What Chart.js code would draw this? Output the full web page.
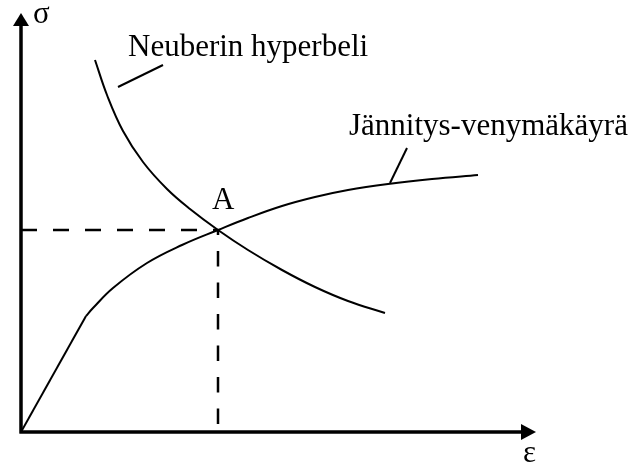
<!DOCTYPE html>
<html>
<head>
<meta charset="utf-8">
<script src="https://cdn.jsdelivr.net/npm/chart.js@4/dist/chart.umd.min.js"></script>
<style>
  body { margin: 0; background: #fff; }
  #wrap { width: 635px; height: 464px; }
</style>
</head>
<body>
<div id="wrap"><canvas id="neuberChart"></canvas></div>
<script>
// strain (ε) and stress (σ), arbitrary units
const elasticEps = [0, 1.30];
const elasticSig = [0, 2.32];

const plasticEps = [1.30, 1.44, 1.84, 2.52, 3.22, 3.94, 4.54, 5.22, 5.88, 6.54, 7.34, 8.22, 9.14];
const plasticSig = [2.32, 2.48, 2.88, 3.38, 3.74, 4.04, 4.28, 4.52, 4.70, 4.84, 4.96, 5.06, 5.14];

const neuberEps = [1.48, 1.72, 2.04, 2.44, 2.92, 3.38, 3.94, 4.54, 5.22, 5.88, 6.54, 7.28];
const neuberSig = [7.44, 6.74, 6.02, 5.40, 4.86, 4.46, 4.04, 3.64, 3.24, 2.90, 2.62, 2.38];

// intersection point A
const pointA = { x: 3.94, y: 4.04 };

// leader lines from the curves to their labels
const neuberLeaderEps = [1.94, 2.84];
const neuberLeaderSig = [6.90, 7.34];
const curveLeaderEps = [7.38, 7.72];
const curveLeaderSig = [4.98, 5.68];

const labelTexts = ["Neuberin hyperbeli", "Jännitys-venymäkäyrä", "A"];
const axisTitles = ["ε", "σ"];

const pts = (xs, ys) => xs.map((x, i) => ({ x: x, y: ys[i] }));

const solid = {
    borderColor: "#000",
    borderWidth: 2,
    pointRadius: 0,
    fill: false
};

const textFont = '31px "Liberation Serif", "Times New Roman", serif';

const annotations = {
    id: "annotations",
    afterDraw(c) {
        const ctx = c.ctx;
        const xs = c.scales.x, ys = c.scales.y;
        const x0 = xs.getPixelForValue(0), y0 = ys.getPixelForValue(0);
        const xEnd = xs.right, yTop = ys.top;

        ctx.save();
        ctx.strokeStyle = "#000";
        ctx.fillStyle = "#000";
        ctx.lineWidth = 3.5;
        ctx.lineCap = "butt";

        // axes
        ctx.beginPath();
        ctx.moveTo(x0, y0 + 1.5);
        ctx.lineTo(x0, yTop + 10);
        ctx.moveTo(x0 - 1.5, y0);
        ctx.lineTo(xEnd - 12, y0);
        ctx.stroke();

        // arrow heads
        ctx.beginPath();
        ctx.moveTo(x0, yTop);
        ctx.lineTo(x0 - 8, yTop + 13);
        ctx.lineTo(x0 + 8, yTop + 13);
        ctx.closePath();
        ctx.fill();
        ctx.beginPath();
        ctx.moveTo(xEnd, y0);
        ctx.lineTo(xEnd - 15, y0 - 8);
        ctx.lineTo(xEnd - 15, y0 + 8);
        ctx.closePath();
        ctx.fill();

        // texts
        ctx.font = textFont;
        ctx.textBaseline = "alphabetic";
        ctx.textAlign = "left";
        const put = (t, x, y) => ctx.fillText(t, xs.getPixelForValue(x), ys.getPixelForValue(y));
        put(labelTexts[0], 2.14, 7.52);
        put(labelTexts[1], 6.56, 5.94);
        put(labelTexts[2], 3.82, 4.46);
        put(axisTitles[1], 0.24, 8.18);
        put(axisTitles[0], 10.04, -0.60);
        ctx.restore();
    }
};

new Chart(document.getElementById("neuberChart"), {
    type: "line",
    data: {
        datasets: [
            { ...solid, data: pts(elasticEps, elasticSig), tension: 0 },
            { ...solid, data: pts(plasticEps, plasticSig), tension: 0.4 },
            { ...solid, data: pts(neuberEps, neuberSig), tension: 0.4 },
            { ...solid, data: pts(neuberLeaderEps, neuberLeaderSig), tension: 0 },
            { ...solid, data: pts(curveLeaderEps, curveLeaderSig), tension: 0 },
            {
                ...solid, borderWidth: 2.5, borderDash: [16, 16],
                data: [{ x: 0, y: pointA.y }, { x: pointA.x, y: pointA.y }]
            },
            {
                ...solid, borderWidth: 2.5, borderDash: [15.5, 16], borderDashOffset: 10.5,
                data: [{ x: pointA.x, y: pointA.y }, { x: pointA.x, y: 0 }]
            }
        ]
    },
    options: {
        responsive: true,
        maintainAspectRatio: false,
        animation: false,
        layout: { padding: { left: 21, right: 99, top: 13, bottom: 32 } },
        plugins: {
            legend: { display: false },
            tooltip: { enabled: false }
        },
        scales: {
            x: { type: "linear", min: 0, max: 10.3, display: false },
            y: { type: "linear", min: 0, max: 8.38, display: false }
        }
    },
    plugins: [annotations]
});
</script>
</body>
</html>
